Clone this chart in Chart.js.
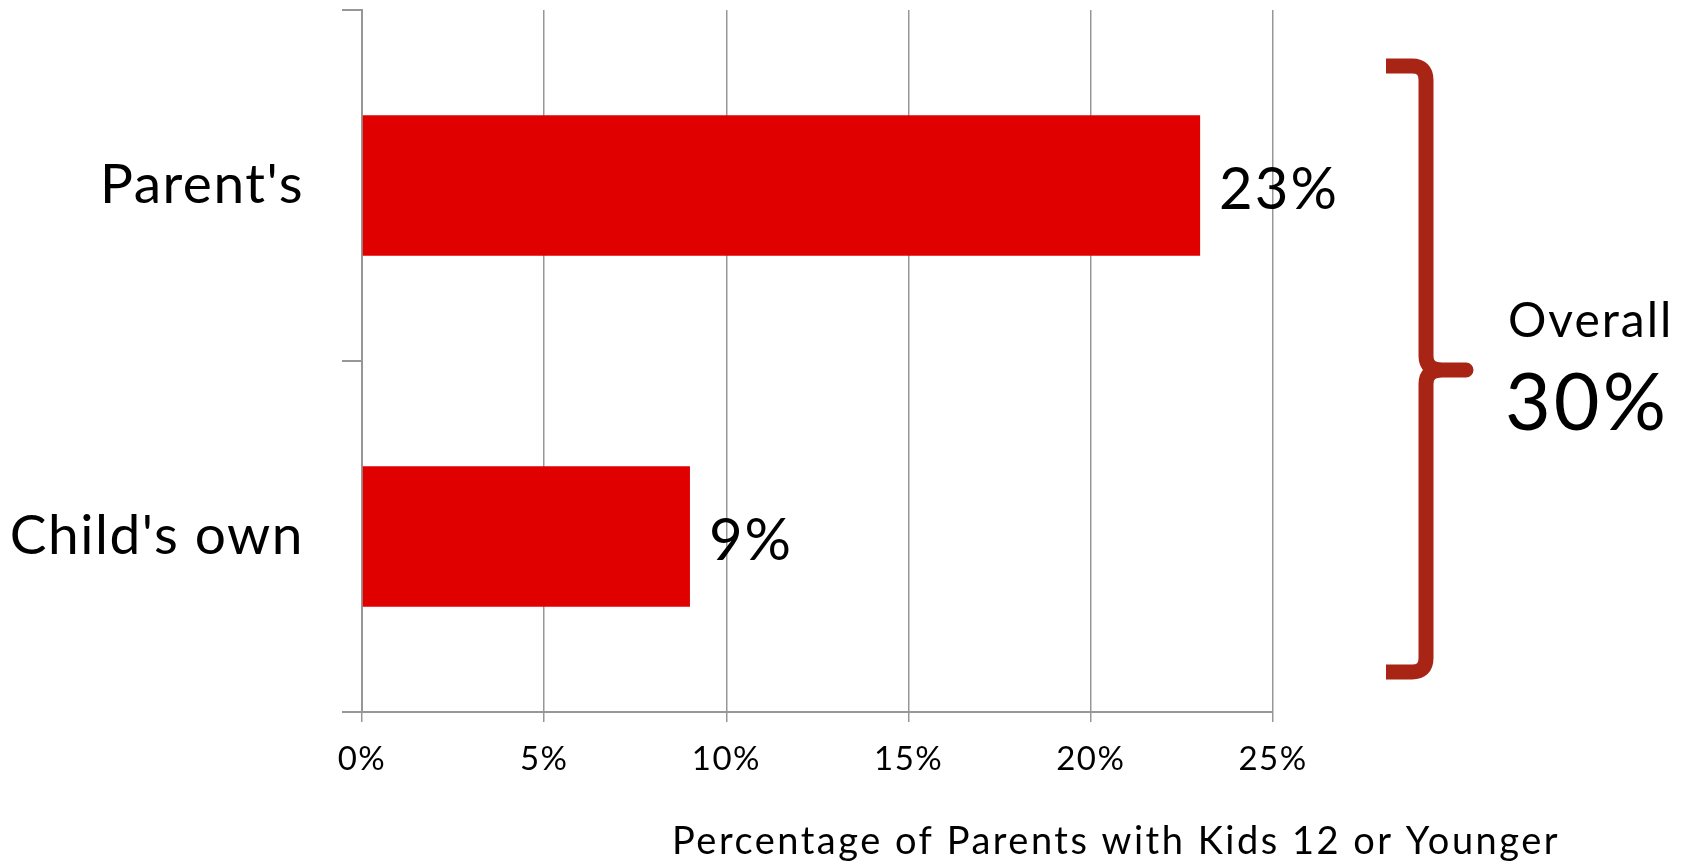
<!DOCTYPE html>
<html>
<head>
<meta charset="utf-8">
<script src="https://cdn.jsdelivr.net/npm/chart.js@4.4.0/dist/chart.umd.min.js"></script>
<style>
  body { margin: 0; background: #fff; }
  canvas { display: block; }
</style>
</head>
<body>
<canvas id="shareChart" width="1683" height="867"></canvas>
<script>
/*** data */
const categories = ["Parent's", "Child's own"];
const shares = [23, 9];
const xTicks = [0, 5, 10, 15, 20, 25];
const axisTitle = 'Percentage of Parents with Kids 12 or Younger';
const overallLabel = 'Overall';
const overallShare = 30;

const FONT = 'Lato, "Open Sans", sans-serif';
const GRID = '#979797';

/*** a bit of extra spacing, the original font is wider */
const spacing = {
  id: 'spacing',
  beforeDraw(chart) {
    chart.ctx.letterSpacing = '1.5px';
  }
};

/*** value labels next to the bars */
const valueLabels = {
  id: 'valueLabels',
  afterDatasetsDraw(chart) {
    const c = chart.ctx;
    const bars = chart.getDatasetMeta(0).data;
    c.save();
    c.letterSpacing = '2px';
    c.font = '58px ' + FONT;
    c.fillStyle = '#000';
    c.textAlign = 'left';
    c.textBaseline = 'alphabetic';
    bars.forEach((bar, i) => {
      c.fillText(shares[i] + '%', bar.x + 19, bar.y + 23);
    });
    c.restore();
  }
};

/*** axis title + the brace with overall number */
const overallBrace = {
  id: 'overallBrace',
  afterDraw(chart) {
    const c = chart.ctx;
    c.save();

    // x axis title
    c.letterSpacing = '2.5px';
    c.font = '38px ' + FONT;
    c.fillStyle = '#000';
    c.textAlign = 'left';
    c.textBaseline = 'alphabetic';
    c.fillText(axisTitle, 672, 854);

    // brace
    c.strokeStyle = '#a82414';
    c.lineWidth = 15;
    c.lineJoin = 'round';
    c.lineCap = 'round';
    c.beginPath();
    c.moveTo(1386, 66);
    c.lineTo(1412, 66);
    c.quadraticCurveTo(1426, 66, 1426, 80);
    c.lineTo(1426, 356);
    c.quadraticCurveTo(1426, 370, 1442, 370);
    c.lineTo(1466, 370);
    c.moveTo(1466, 370);
    c.lineTo(1442, 370);
    c.quadraticCurveTo(1426, 370, 1426, 384);
    c.lineTo(1426, 658);
    c.quadraticCurveTo(1426, 672, 1412, 672);
    c.lineTo(1386, 672);
    c.stroke();
    // square off the outer ends
    c.fillStyle = '#fff';
    c.fillRect(1370, 55, 16, 22);
    c.fillRect(1370, 661, 16, 22);

    // overall text
    c.fillStyle = '#000';
    c.textAlign = 'left';
    c.letterSpacing = '2px';
    c.font = '48px ' + FONT;
    c.fillText(overallLabel, 1508, 337);
    c.letterSpacing = '3px';
    c.font = '79px ' + FONT;
    c.fillText(overallShare + '%', 1505, 430);
    c.restore();
  }
};

const ctx = document.getElementById('shareChart').getContext('2d');

const chart = new Chart(ctx, {
  type: 'bar',
  data: {
    labels: categories,
    datasets: [{
      data: shares,
      backgroundColor: '#e10000',
      borderWidth: 0,
      categoryPercentage: 1,
      barPercentage: 0.4
    }]
  },
  options: {
    indexAxis: 'y',
    responsive: false,
    animation: false,
    layout: {
      padding: { left: 0, top: 10, right: 410, bottom: 0 }
    },
    plugins: {
      legend: { display: false },
      tooltip: { enabled: false }
    },
    scales: {
      x: {
        min: xTicks[0],
        max: xTicks[xTicks.length - 1],
        afterBuildTicks: (scale) => {
          scale.ticks = xTicks.map(v => ({ value: v }));
        },
        afterFit: (scale) => {
          scale.height = 155;
          scale.paddingLeft = 0;
          scale.paddingRight = 0;
        },
        ticks: {
          color: '#000',
          padding: 18,
          font: { family: FONT, size: 33 },
          callback: (v) => v + '%'
        },
        grid: {
          color: GRID,
          lineWidth: 1.5,
          tickLength: 10
        },
        border: { color: GRID, width: 2 }
      },
      y: {
        afterFit: (scale) => {
          scale.width = 362;
          scale.paddingTop = 0;
          scale.paddingBottom = 0;
        },
        ticks: {
          color: '#000',
          padding: 38,
          font: { family: FONT, size: 55 }
        },
        grid: {
          color: GRID,
          lineWidth: 2,
          drawOnChartArea: false,
          tickLength: 20,
          offset: true
        },
        border: { color: GRID, width: 2 }
      }
    }
  },
  plugins: [spacing, valueLabels, overallBrace]
});
</script>
</body>
</html>
